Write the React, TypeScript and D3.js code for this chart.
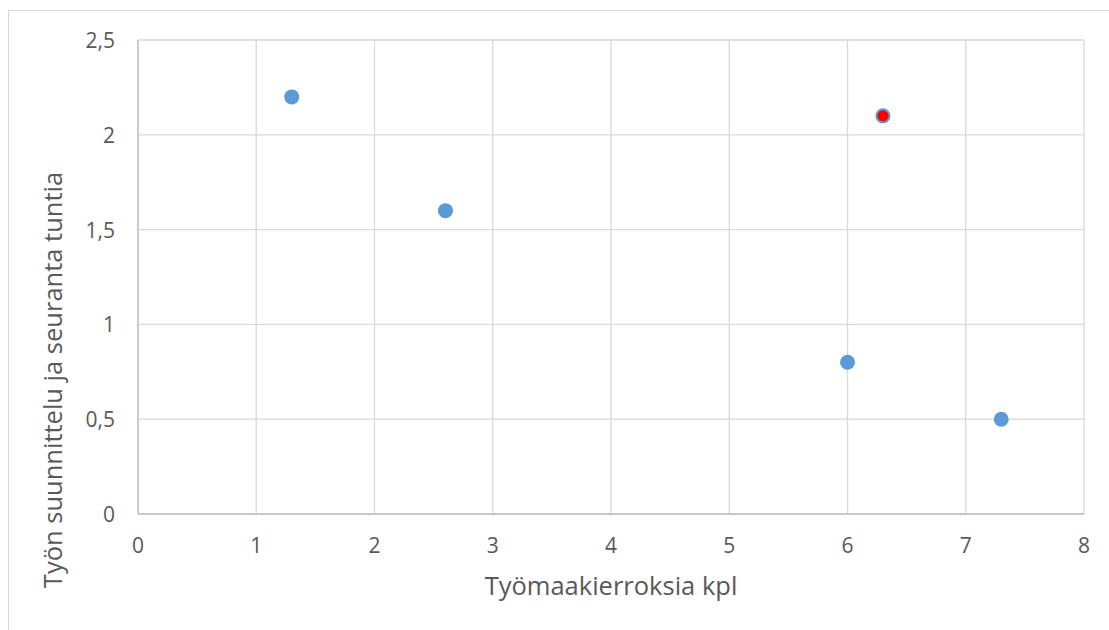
import React from 'react';
import * as d3 from 'd3';

// data
const rounds = [1.3, 2.6, 6.0, 6.3, 7.3];
const hours = [2.2, 1.6, 0.8, 2.1, 0.5];
const highlighted = [false, false, false, true, false];
const xTicks = [0, 1, 2, 3, 4, 5, 6, 7, 8];
const yTicks = [0, 0.5, 1, 1.5, 2, 2.5];
const xTitle = 'Työmaakierroksia kpl';
const yTitle = 'Työn suunnittelu ja seuranta tuntia';

const W = 1109;
const H = 630;
const margin = { top: 40, right: 25, bottom: 116, left: 138 };
const font = '"Open Sans", "Noto Sans", sans-serif';

const App: React.FC = () => {
  const x = d3.scaleLinear().domain([0, 8]).range([margin.left, W - margin.right]);
  const y = d3.scaleLinear().domain([0, 2.5]).range([H - margin.bottom, margin.top]);
  const fmt = (v: number) => String(v).replace('.', ',');
  const points = rounds.map((r, i) => ({ x: r, y: hours[i], hi: highlighted[i] }));

  return (
    <svg width={W} height={H} style={{ position: 'absolute', left: 0, top: 0, background: '#fff' }}>
      {/* outer chart frame */}
      <rect x={8.5} y={10.5} width={W + 10} height={H + 10} fill="none" stroke="#d9d9d9" strokeWidth={1} />

      {/* grid */}
      {xTicks.map(t => (
        <line key={'gx' + t} x1={x(t)} x2={x(t)} y1={y(2.5)} y2={y(0)} stroke="#d9d9d9" strokeWidth={1.3} />
      ))}
      {yTicks.map(t => (
        <line key={'gy' + t} x1={x(0)} x2={x(8)} y1={y(t)} y2={y(t)} stroke="#d9d9d9" strokeWidth={1.3} />
      ))}
      {/* axes */}
      <line x1={x(0)} x2={x(8)} y1={y(0)} y2={y(0)} stroke="#bfbfbf" strokeWidth={1.3} />
      <line x1={x(0)} x2={x(0)} y1={y(0)} y2={y(2.5)} stroke="#bfbfbf" strokeWidth={1.3} />

      {/* tick labels */}
      {yTicks.map(t => (
        <text key={'ly' + t} x={x(0) - 23} y={y(t) + 8} textAnchor="end" fontFamily={font} fontSize={21} fill="#595959">
          {fmt(t)}
        </text>
      ))}
      {xTicks.map(t => (
        <text key={'lx' + t} x={x(t)} y={y(0) + 39} textAnchor="middle" fontFamily={font} fontSize={21} fill="#595959">
          {fmt(t)}
        </text>
      ))}

      {/* titles */}
      <text x={(x(0) + x(8)) / 2} y={595} textAnchor="middle" fontFamily={font} fontSize={25.5} fill="#595959">
        {xTitle}
      </text>
      <text
        transform="translate(62, 380) rotate(-90)"
        textAnchor="middle"
        fontFamily={font}
        fontSize={25.5}
        fill="#595959"
      >
        {yTitle}
      </text>

      {/* points */}
      {points.map((p, i) =>
        p.hi ? (
          <circle key={i} cx={x(p.x)} cy={y(p.y)} r={6.5} fill="#ff0000" stroke="#5b9bd5" strokeWidth={2} />
        ) : (
          <circle key={i} cx={x(p.x)} cy={y(p.y)} r={7.5} fill="#5b9bd5" />
        )
      )}
    </svg>
  );
};

export default App;
